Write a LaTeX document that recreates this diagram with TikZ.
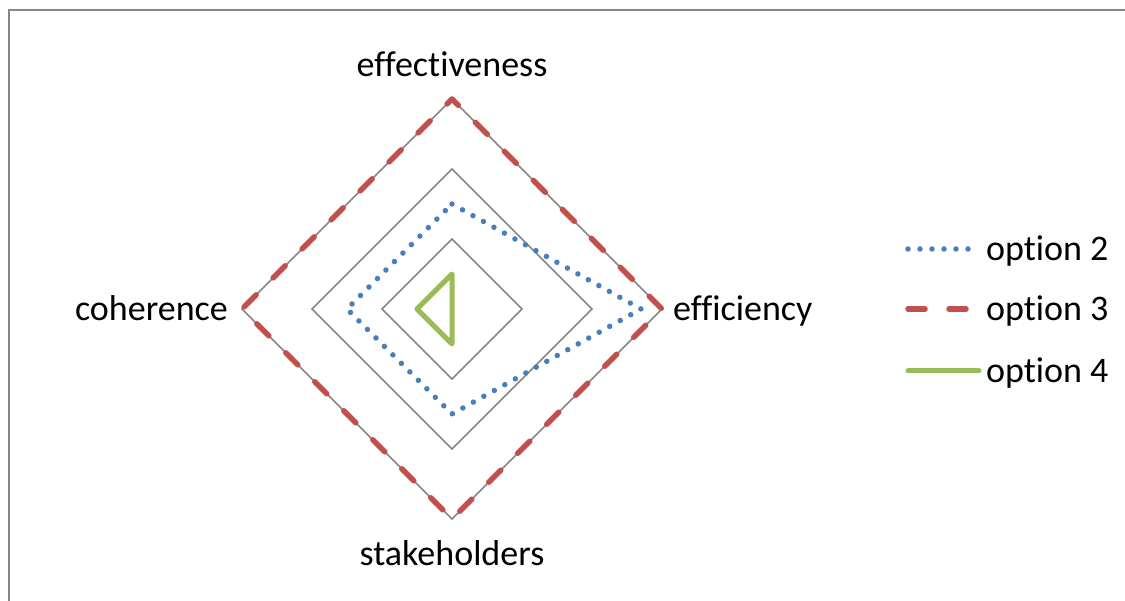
\documentclass[tikz,border=0pt]{standalone}
\usepackage{fontspec}
\setmainfont[Ligatures=NoCommon]{Carlito}
\definecolor{optblue}{HTML}{4A7EBB}
\definecolor{optred}{HTML}{C0504D}
\definecolor{optgreen}{HTML}{9BBB59}
\definecolor{gridgray}{HTML}{868686}
\begin{document}
\begin{tikzpicture}[x=1pt,y=1pt]
        \tikzstyle{frame}=[draw=gridgray,line width=1.5pt]
        \tikzstyle{grid}=[draw=gridgray,line width=1.5pt,line join=miter]
        \tikzstyle{axislabel}=[inner sep=0pt,font=\fontsize{36}{43}\selectfont]
        \tikzstyle{option2}=[draw=optblue,line width=5.5pt,line cap=round,dash pattern=on 0pt off 12pt]
        \tikzstyle{option3}=[draw=optred,line width=5.5pt,line cap=round,dash pattern=on 17pt off 24pt,dash phase=8pt]
        \tikzstyle{option4}=[draw=optgreen,line width=5pt,line cap=round,line join=round]
        \useasboundingbox (0,0) rectangle (1125,601);
        \draw[frame] (9,-10) |- (1140,591);
       \begin{scope}[shift={(452pt,292pt)}]
         % grid rings
         \foreach \r in {1,2,3}
           \draw[grid] (90:\r*70) -- (0:\r*70) -- (270:\r*70) -- (180:\r*70) -- cycle;
         % axis labels
         \node [axislabel,anchor=base] (eff) at (0,232) {effectiveness};
         \node [axislabel,anchor=base west] (efc) at (221,-12) {efficiency};
         \node [axislabel,anchor=base] (stk) at (0,-257) {stakeholders};
         \node [axislabel,anchor=base east] (coh) at (-224,-12) {coherence};
         % option 2
         \coordinate (b1) at (90:105);
         \coordinate (b2) at (0:189);
         \coordinate (b3) at (270:105);
         \coordinate (b4) at (180:105);
         \draw[option2] (b1) -- (b2) -- (b3) -- (b4) -- cycle;
         % option 3
         \coordinate (r1) at (90:210);
         \coordinate (r2) at (0:210);
         \coordinate (r3) at (270:210);
         \coordinate (r4) at (180:210);
         \draw[option3] (r1) -- (r2) -- (r3) -- (r4) -- cycle;
         % option 4
         \coordinate (g1) at (90:35);
         \coordinate (g2) at (0:0);
         \coordinate (g3) at (270:35);
         \coordinate (g4) at (180:35);
         \draw[option4] (g1) -- (g2) -- (g3) -- (g4) -- cycle;
        \end{scope}
         % legend
         \coordinate (k2a) at (908,352);
         \coordinate (k2b) at (972,352);
         \coordinate (k3a) at (908,292);
         \coordinate (k3b) at (972,292);
         \coordinate (k4a) at (908,230);
         \coordinate (k4b) at (979,230);
         \draw[option2] (k2a) -- (k2b);
         \draw[option3,dash phase=0pt] (k3a) -- (k3b);
         \draw[option4] (k4a) -- (k4b);
         \node [axislabel,anchor=base west] (leg2) at (986,340) {option 2};
         \node [axislabel,anchor=base west] (leg3) at (986,280) {option 3};
         \node [axislabel,anchor=base west] (leg4) at (986,218) {option 4};
      \end{tikzpicture}
\end{document}
